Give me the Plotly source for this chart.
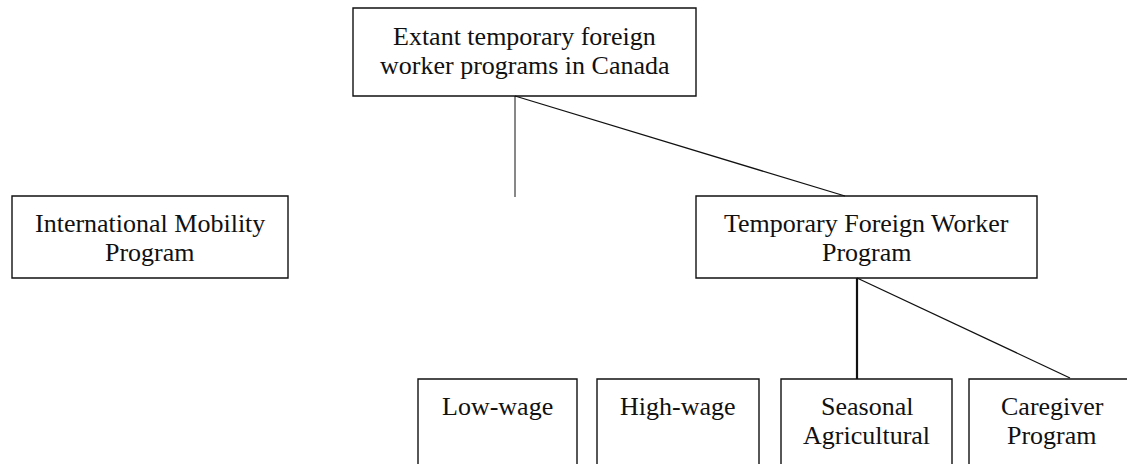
import plotly.graph_objects as go

# ---- content ----
node_labels = [
    ["Extant temporary foreign", "worker programs in Canada"],
    ["International Mobility", "Program"],
    ["Temporary Foreign Worker", "Program"],
    ["Low-wage"],
    ["High-wage"],
    ["Seasonal", "Agricultural"],
    ["Caregiver", "Program"],
]

# ---- layout geometry (pixel space of the 1127x464 canvas) ----
box_x0 = [353, 12, 696, 418, 597, 781, 969]
box_x1 = [696, 288, 1037, 577, 759, 952, 1135]
box_y0 = [8, 196, 196, 379, 379, 379, 379]
box_y1 = [96, 278, 278, 490, 490, 490, 490]
first_baseline = [45, 232, 232, 415, 415, 415, 415]
LINE_GAP = 29.5
FONT_SIZE = 26

# connector endpoints
edge_x0 = [515, 515, 857, 857]
edge_y0 = [96, 96, 278, 278]
edge_x1 = [515, 845, 857, 1070]
edge_y1 = [197, 196, 379, 378]
edge_w = [1.0, 1.3, 2.2, 1.3]

W, H = 1127, 464
fig = go.Figure()
fig.add_trace(go.Scatter(x=[0, W], y=[0, H], mode="markers",
                         marker=dict(opacity=0), hoverinfo="skip", showlegend=False))

shapes = []
for i in range(len(node_labels)):
    shapes.append(dict(type="rect", xref="x", yref="y",
                       x0=box_x0[i], x1=box_x1[i], y0=box_y0[i], y1=box_y1[i],
                       line=dict(color="#111111", width=1.4), fillcolor="rgba(0,0,0,0)"))
for k in range(len(edge_x0)):
    shapes.append(dict(type="line", xref="x", yref="y",
                       x0=edge_x0[k], y0=edge_y0[k], x1=edge_x1[k], y1=edge_y1[k],
                       line=dict(color="#111111", width=edge_w[k])))

annotations = []
for i, lines in enumerate(node_labels):
    cx = (box_x0[i] + box_x1[i]) / 2
    for j, txt in enumerate(lines):
        base = first_baseline[i] + j * LINE_GAP
        annotations.append(dict(x=cx, y=base - 9, xref="x", yref="y", text=txt,
                                showarrow=False, xanchor="center", yanchor="middle",
                                font=dict(family="Liberation Serif, Times New Roman, serif",
                                          size=FONT_SIZE, color="#111111")))

fig.update_layout(
    width=W, height=H, autosize=False,
    margin=dict(l=0, r=0, t=0, b=0),
    paper_bgcolor="white", plot_bgcolor="white",
    xaxis=dict(range=[0, W], visible=False, fixedrange=True),
    yaxis=dict(range=[H, 0], visible=False, fixedrange=True),
    shapes=shapes, annotations=annotations, showlegend=False,
)
fig.write_html(
    "out.html",
    config={"displayModeBar": False},
    post_script="document.body.style.margin='0';document.documentElement.style.overflow='hidden';document.body.style.overflow='hidden';",
)
